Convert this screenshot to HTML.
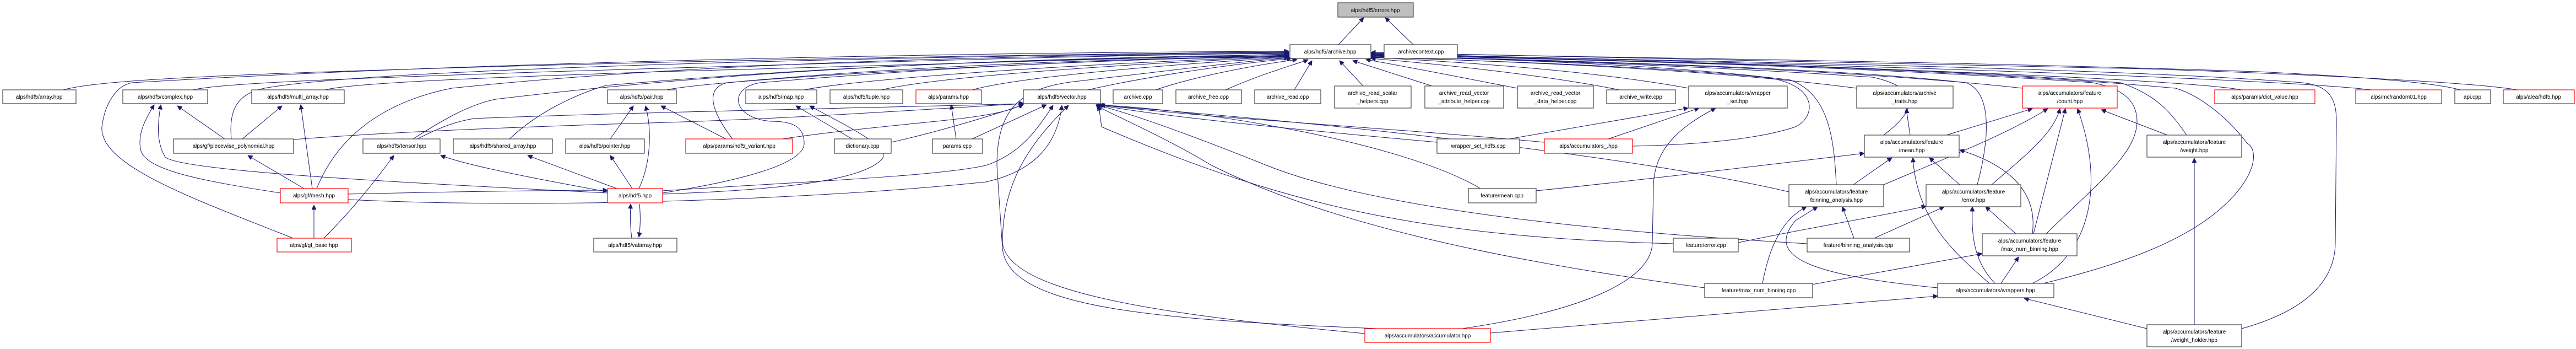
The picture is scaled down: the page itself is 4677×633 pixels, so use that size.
<!DOCTYPE html>
<html><head><meta charset="utf-8"><style>
html,body{margin:0;padding:0;background:#fff;}
svg{display:block;}
text{font-family:"Liberation Sans",Arial,sans-serif;font-size:10px;fill:#000;text-anchor:middle;}
rect{stroke-width:1.2;}
.n{fill:#fff;stroke:#404040;}
.r{fill:#fff;stroke:#ff0000;}
.g{fill:#bfbfbf;stroke:#404040;}
path{fill:none;stroke:#191970;stroke-width:1;marker-end:url(#a);}
</style></head><body>
<svg width="4677" height="633" viewBox="0 0 4677 633" xmlns="http://www.w3.org/2000/svg">
<defs><marker id="a" viewBox="0 0 10 10" refX="10" refY="5" markerWidth="10" markerHeight="8" markerUnits="userSpaceOnUse" orient="auto"><path d="M0,0 L10,5 L0,10 z" style="fill:#191970;stroke:#191970;marker-end:none"/></marker></defs>

<!-- edges to errors -->
<path d="M2430,81 L2476,32"/>
<path d="M2566,81 L2515,32"/>

<!-- edges to archive.hpp from left -->
<path d="M115,163 C160,150 300,140 600,130 C1200,110 1800,100 2340,94"/>
<path d="M350,163 C400,150 700,140 1000,130 C1500,115 2000,100 2340,96"/>
<path d="M590,163 C640,150 900,140 1200,130 C1700,115 2100,102 2340,98"/>
<path d="M1210,163 C1300,145 1800,115 2340,100"/>
<path d="M1460,163 C1550,145 1900,118 2340,102"/>
<path d="M1600,163 C1700,140 2000,118 2340,103"/>
<path d="M1765,163 C1850,140 2100,118 2342,104"/>
<path d="M1975,163 C2100,135 2250,115 2345,106"/>
<path d="M2098,163 C2180,135 2300,115 2355,108"/>
<path d="M2225,163 C2300,130 2360,115 2375,108"/>
<path d="M2350,163 L2382,110"/>
<path d="M420,252 C415,200 430,170 480,160 C700,120 1800,100 2340,95"/>
<path d="M532,432 C350,360 180,300 185,230 C190,190 210,155 240,150 C900,110 1800,95 2340,93"/>
<path d="M575,342 C620,230 720,180 820,160 C1300,110 1900,100 2340,97"/>
<path d="M750,252 C800,220 850,190 900,180 C1400,120 1900,105 2340,99"/>
<path d="M925,252 C980,200 1050,170 1100,155 C1500,120 1900,105 2340,101"/>
<path d="M1330,252 C1290,200 1280,160 1320,150 C1700,115 2100,105 2340,102"/>
<path d="M1203,350 C1330,330 1460,300 1460,260 C1460,230 1440,220 1400,220 C1330,215 1320,160 1380,150 C1800,115 2100,105 2340,103"/>
<path d="M2500,596 C2100,580 1830,560 1820,450 L1810,300 C1810,200 1850,160 1950,148 C2150,125 2250,112 2340,105"/>

<!-- edges to archive.hpp from right -->
<path d="M2475,156 L2432,110"/>
<path d="M2600,156 L2456,110"/>
<path d="M2755,160 C2650,140 2550,120 2480,108"/>
<path d="M2940,163 C2800,135 2600,115 2489,106"/>
<path d="M3066,160 C2900,130 2700,115 2489,104"/>
<path d="M3371,160 C3100,125 2750,112 2489,103"/>
<path d="M3672,160 C3300,120 2800,110 2489,102"/>
<path d="M3420,245 C3480,200 3490,160 3400,140 C3100,120 2800,110 2489,101"/>
<path d="M3334,335 C3330,250 3320,170 3250,145 C3050,120 2800,110 2489,100"/>
<path d="M3590,335 C3610,260 3620,170 3570,150 C3300,120 2800,110 2489,100"/>
<path d="M3715,424 C3800,340 3880,280 3880,220 C3880,180 3850,160 3800,150 C3300,115 2800,108 2489,99"/>
<path d="M3970,245 C3940,200 3910,170 3850,150 C3400,115 2800,108 2489,99"/>
<path d="M4070,596 C4200,560 4240,500 4240,440 L4242,220 C4242,180 4230,155 4180,150 C3800,120 2900,108 2489,98"/>
<path d="M4070,163 C4000,150 3600,125 2489,98"/>
<path d="M4305,163 C4200,150 3700,125 2489,97"/>
<path d="M4467,163 C4420,150 4300,140 4100,130 C3500,110 2900,104 2489,96"/>
<path d="M4570,163 C4500,150 4200,135 3900,125 C3400,110 2900,102 2489,95"/>
<path d="M2964,265 C3100,262 3200,250 3260,230 C3300,210 3300,150 3200,140 C3000,120 2700,110 2489,104"/>
<path d="M3710,514 C3850,480 3960,440 4030,380 C4100,320 4100,270 4080,260 C4050,220 4000,175 3950,160 C3500,120 2900,108 2489,100"/>

<!-- complex / multi_array / piecewise / mesh / gf_base / tensor -->
<path d="M408,252 L322,192"/>
<path d="M509,350 C380,330 260,310 255,270 C250,240 265,215 280,190"/>
<path d="M1103,350 C700,330 330,310 300,285 C285,260 285,230 292,190"/>
<path d="M440,252 L512,192"/>
<path d="M567,342 L546,190"/>
<path d="M552,342 L450,282"/>
<path d="M570,432 L570,372"/>
<path d="M588,432 C640,380 680,330 715,282"/>
<path d="M533,253 C700,240 900,232 1110,225 C1400,218 1650,200 1858,188"/>
<path d="M758,252 C800,230 830,220 860,215 C1100,205 1600,195 1860,188"/>
<path d="M1103,348 C950,320 850,300 800,282"/>
<path d="M632,352 C800,348 1000,345 1103,345"/>

<!-- pair / shared_array / pointer / hdf5 / valarray -->
<path d="M1108,252 L1150,192"/>
<path d="M1160,342 C1180,300 1185,240 1172,192"/>
<path d="M1318,252 L1200,192"/>
<path d="M1120,342 L958,282"/>
<path d="M1148,342 L1108,282"/>
<path d="M1147,432 C1144,410 1144,390 1145,370"/>
<path d="M1161,370 C1163,390 1163,410 1160,430"/>
<path d="M1547,252 L1445,192"/>
<path d="M1203,352 C1400,345 1560,330 1600,290 C1620,270 1560,240 1470,192"/>
<path d="M1420,252 C1500,240 1600,230 1700,220 C1800,210 1840,200 1858,188"/>

<!-- params / vector -->
<path d="M1736,252 L1727,190"/>
<path d="M1765,252 L1900,190"/>
<path d="M1618,258 C1700,240 1800,210 1858,190"/>
<path d="M1203,346 C1450,330 1700,320 1790,300 C1850,280 1880,240 1912,191"/>
<path d="M632,362 C1000,380 1500,360 1790,330 C1880,310 1920,260 1928,191"/>
<path d="M3281,442 C2900,420 2500,380 2300,300 C2150,240 2050,205 1990,190"/>
<path d="M2804,258 C2500,230 2200,215 1995,190"/>
<path d="M2609,258 C2300,230 2100,210 1993,190"/>
<path d="M2688,342 C2550,260 2200,200 1990,190"/>
<path d="M3038,442 C2600,430 2350,380 2000,230 L1995,192"/>
<path d="M3095,522 C2700,470 2400,400 2200,300 C2100,240 2000,200 1990,190"/>
<path d="M2478,605 C2100,570 1830,530 1820,440 C1820,330 1870,260 1940,191"/>
<path d="M3248,348 C3000,290 2500,230 1998,191"/>

<!-- wrapper_set -->
<path d="M2740,252 L3065,196"/>
<path d="M2920,252 L3085,196"/>
<path d="M2655,596 C2900,560 3000,500 3000,440 L3002,340 C3002,270 3050,230 3115,196"/>

<!-- accumulator feature graph -->
<path d="M3468,245 L3461,197"/>
<path d="M3534,245 L3690,197"/>
<path d="M3420,335 C3550,280 3650,240 3718,197"/>
<path d="M3616,335 C3680,280 3730,240 3740,197"/>
<path d="M3692,424 L3750,197"/>
<path d="M3690,514 C3800,460 3820,330 3772,197"/>
<path d="M3935,245 L3815,199"/>
<path d="M3365,335 L3435,286"/>
<path d="M3558,335 L3503,286"/>
<path d="M3612,514 C3550,460 3480,400 3473,286"/>
<path d="M3690,424 C3700,350 3650,300 3558,272"/>
<path d="M2789,346 C2950,330 3200,300 3385,278"/>
<path d="M3366,432 L3345,375"/>
<path d="M3200,514 C3210,460 3230,400 3280,375"/>
<path d="M3518,522 C3300,500 3200,470 3260,400 L3300,375"/>
<path d="M3403,432 L3530,375"/>
<path d="M3622,514 C3580,470 3580,420 3581,375"/>
<path d="M3660,424 L3605,375"/>
<path d="M3156,440 C3300,410 3400,395 3497,374"/>
<path d="M3290,516 L3599,460"/>
<path d="M3633,514 L3665,466"/>
<path d="M3898,596 L3675,541"/>
<path d="M2706,604 L3518,537"/>
<path d="M3984,589 L3984,287"/>
</svg>
<svg width="4677" height="633" viewBox="0 0 4677 633" xmlns="http://www.w3.org/2000/svg" style="position:absolute;left:0;top:0">
<rect class="g" x="2429" y="5" width="137" height="26"/><text x="2497" y="22">alps/hdf5/errors.hpp</text>
<rect class="n" x="2342" y="81" width="147" height="25"/><text x="2415" y="97">alps/hdf5/archive.hpp</text>
<rect class="n" x="2513" y="81" width="133" height="25"/><text x="2580" y="97">archivecontext.cpp</text>

<rect class="n" x="5" y="163" width="133" height="25"/><text x="71" y="179">alps/hdf5/array.hpp</text>
<rect class="n" x="223" y="163" width="154" height="25"/><text x="300" y="179">alps/hdf5/complex.hpp</text>
<rect class="n" x="457" y="163" width="168" height="25"/><text x="541" y="179">alps/hdf5/multi_array.hpp</text>
<rect class="n" x="1103" y="163" width="125" height="25"/><text x="1165" y="179">alps/hdf5/pair.hpp</text>
<rect class="n" x="1354" y="163" width="129" height="25"/><text x="1418" y="179">alps/hdf5/map.hpp</text>
<rect class="n" x="1507" y="163" width="132" height="25"/><text x="1573" y="179">alps/hdf5/tuple.hpp</text>
<rect class="r" x="1663" y="163" width="119" height="25"/><text x="1722" y="179">alps/params.hpp</text>
<rect class="n" x="1858" y="163" width="140" height="25"/><text x="1928" y="179">alps/hdf5/vector.hpp</text>
<rect class="n" x="2021" y="163" width="90" height="25"/><text x="2066" y="179">archive.cpp</text>
<rect class="n" x="2135" y="163" width="119" height="25"/><text x="2194" y="179">archive_free.cpp</text>
<rect class="n" x="2278" y="163" width="120" height="25"/><text x="2338" y="179">archive_read.cpp</text>
<rect class="n" x="2423" y="156" width="139" height="40"/><text x="2492" y="172">archive_read_scalar</text><text x="2492" y="187">_helpers.cpp</text>
<rect class="n" x="2587" y="156" width="143" height="40"/><text x="2658" y="172">archive_read_vector</text><text x="2658" y="187">_attribute_helper.cpp</text>
<rect class="n" x="2755" y="156" width="138" height="40"/><text x="2824" y="172">archive_read_vector</text><text x="2824" y="187">_data_helper.cpp</text>
<rect class="n" x="2917" y="163" width="125" height="25"/><text x="2979" y="179">archive_write.cpp</text>
<rect class="n" x="3066" y="156" width="179" height="40"/><text x="3155" y="172">alps/accumulators/wrapper</text><text x="3155" y="187">_set.hpp</text>
<rect class="n" x="3371" y="156" width="175" height="40"/><text x="3458" y="172">alps/accumulators/archive</text><text x="3458" y="187">_traits.hpp</text>
<rect class="r" x="3672" y="156" width="172" height="40"/><text x="3758" y="172">alps/accumulators/feature</text><text x="3758" y="187">/count.hpp</text>
<rect class="r" x="4021" y="163" width="182" height="25"/><text x="4112" y="179">alps/params/dict_value.hpp</text>
<rect class="r" x="4277" y="163" width="156" height="25"/><text x="4355" y="179">alps/mc/random01.hpp</text>
<rect class="n" x="4457" y="163" width="65" height="25"/><text x="4489" y="179">api.cpp</text>
<rect class="r" x="4545" y="163" width="129" height="25"/><text x="4609" y="179">alps/alea/hdf5.hpp</text>

<rect class="n" x="315" y="252" width="218" height="26"/><text x="424" y="268">alps/gf/piecewise_polynomial.hpp</text>
<rect class="n" x="659" y="252" width="140" height="26"/><text x="729" y="268">alps/hdf5/tensor.hpp</text>
<rect class="n" x="823" y="252" width="180" height="26"/><text x="913" y="268">alps/hdf5/shared_array.hpp</text>
<rect class="n" x="1027" y="252" width="143" height="26"/><text x="1098" y="268">alps/hdf5/pointer.hpp</text>
<rect class="r" x="1245" y="252" width="194" height="26"/><text x="1342" y="268">alps/params/hdf5_variant.hpp</text>
<rect class="n" x="1515" y="252" width="103" height="26"/><text x="1566" y="268">dictionary.cpp</text>
<rect class="n" x="1693" y="252" width="91" height="26"/><text x="1738" y="268">params.cpp</text>
<rect class="n" x="2609" y="252" width="150" height="26"/><text x="2684" y="268">wrapper_set_hdf5.cpp</text>
<rect class="r" x="2804" y="252" width="160" height="26"/><text x="2884" y="268">alps/accumulators_.hpp</text>
<rect class="n" x="3385" y="245" width="172" height="40"/><text x="3471" y="261">alps/accumulators/feature</text><text x="3471" y="276">/mean.hpp</text>
<rect class="n" x="3898" y="245" width="172" height="40"/><text x="3984" y="261">alps/accumulators/feature</text><text x="3984" y="276">/weight.hpp</text>

<rect class="r" x="509" y="342" width="123" height="26"/><text x="570" y="358">alps/gf/mesh.hpp</text>
<rect class="r" x="1103" y="342" width="100" height="26"/><text x="1153" y="358">alps/hdf5.hpp</text>
<rect class="n" x="2666" y="342" width="123" height="26"/><text x="2727" y="358">feature/mean.cpp</text>
<rect class="n" x="3248" y="335" width="172" height="40"/><text x="3334" y="351">alps/accumulators/feature</text><text x="3334" y="366">/binning_analysis.hpp</text>
<rect class="n" x="3497" y="335" width="172" height="40"/><text x="3583" y="351">alps/accumulators/feature</text><text x="3583" y="366">/error.hpp</text>

<rect class="r" x="503" y="432" width="135" height="25"/><text x="570" y="448">alps/gf/gf_base.hpp</text>
<rect class="n" x="1078" y="432" width="151" height="25"/><text x="1153" y="448">alps/hdf5/valarray.hpp</text>
<rect class="n" x="3038" y="432" width="118" height="25"/><text x="3097" y="448">feature/error.cpp</text>
<rect class="n" x="3281" y="432" width="186" height="25"/><text x="3374" y="448">feature/binning_analysis.cpp</text>
<rect class="n" x="3599" y="424" width="172" height="40"/><text x="3685" y="440">alps/accumulators/feature</text><text x="3685" y="455">/max_num_binning.hpp</text>

<rect class="n" x="3095" y="514" width="196" height="26"/><text x="3193" y="530">feature/max_num_binning.cpp</text>
<rect class="n" x="3518" y="514" width="211" height="26"/><text x="3623" y="530">alps/accumulators/wrappers.hpp</text>

<rect class="r" x="2478" y="596" width="228" height="25"/><text x="2592" y="612">alps/accumulators/accumulator.hpp</text>
<rect class="n" x="3898" y="589" width="172" height="40"/><text x="3984" y="605">alps/accumulators/feature</text><text x="3984" y="620">/weight_holder.hpp</text>
</svg>
</body></html>
